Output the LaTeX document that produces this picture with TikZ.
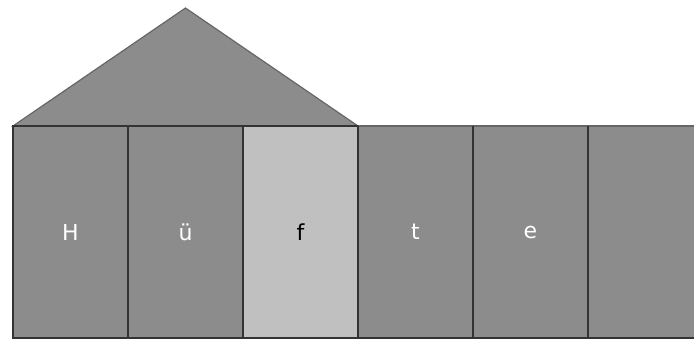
\documentclass[tikz,border=0pt]{standalone}
\usepackage{fontspec}
\setmainfont{DejaVu Sans}
\definecolor{boxgray}{HTML}{8C8C8C}
\definecolor{hlgray}{HTML}{C0C0C0}
\definecolor{edgedark}{HTML}{333333}
\definecolor{roofedge}{HTML}{666666}
\begin{document}
\begin{tikzpicture}[x=1pt,y=-1pt,
  cell/.style={draw=edgedark, line width=1.6pt, fill=boxgray, anchor=north west,
    minimum width=115pt, minimum height=212pt, inner sep=0pt, outer sep=0pt,
    text=white, font=\fontsize{22}{26}\selectfont},
  hlcell/.style={cell, fill=hlgray, text=black},
  roof/.style={draw=roofedge, line width=1.2pt, fill=boxgray, line join=miter}]
\useasboundingbox (0,0) rectangle (694,338);
\clip (0,0) rectangle (694,338);
\coordinate (rl) at (13,126);
\coordinate (ra) at (185.5,8);
\coordinate (rr) at (358,126);
\draw[roof] (rl) -- (ra) -- (rr) -- cycle;
\node[cell] (b1) at (13,126) {H};
\node[cell] (b2) at (128,126) {ü};
\node[hlcell] (b3) at (243,126) {f};
\node[cell] (b4) at (358,126) {t};
\node[cell] (b5) at (473,126) {e};
\node[cell] (b6) at (588,126) {};
\draw[roofedge, line width=1.6pt] (b4.north west) -- (b6.north east);
\draw[edgedark, line width=1.6pt] (b4.north west) -- (b4.south west)
  (b5.north west) -- (b5.south west) (b6.north west) -- (b6.south west);
\end{tikzpicture}
\end{document}
